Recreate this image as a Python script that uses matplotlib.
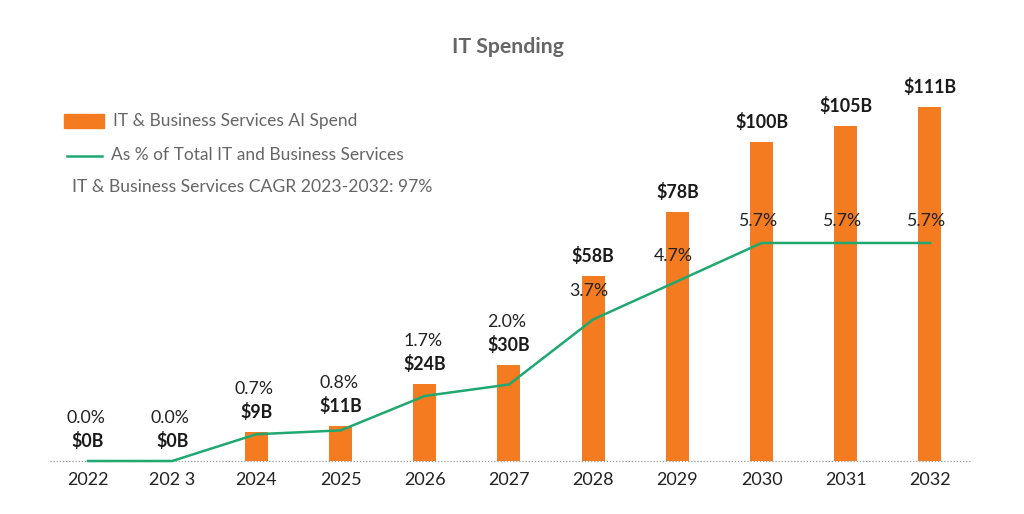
import matplotlib
matplotlib.use("Agg")
import matplotlib.pyplot as plt
from matplotlib.patches import Rectangle
from matplotlib.lines import Line2D

plt.rcParams['font.family'] = ['Lato', 'DejaVu Sans']

years = ["2022", "202 3", "2024", "2025", "2026", "2027", "2028", "2029", "2030", "2031", "2032"]
spend = [0, 0, 9, 11, 24, 30, 58, 78, 100, 105, 111]
spend_labels = ["$0B", "$0B", "$9B", "$11B", "$24B", "$30B", "$58B", "$78B", "$100B", "$105B", "$111B"]
pct = [0.0, 0.0, 0.7, 0.8, 1.7, 2.0, 3.7, 4.7, 5.7, 5.7, 5.7]
pct_labels = ["0.0%", "0.0%", "0.7%", "0.8%", "1.7%", "2.0%", "3.7%", "4.7%", "5.7%", "5.7%", "5.7%"]

ORANGE = "#F47B20"
GREEN = "#1FA872"
GRAY = "#666666"
DARK = "#1a1a1a"

W, H = 1024, 514
fig = plt.figure(figsize=(W / 100, H / 100), dpi=100)
fig.patch.set_facecolor("white")

def fx(px):
    return px / W

def fy(py):
    return 1 - py / H

ax = fig.add_axes([fx(50), fy(461), fx(972) - fx(50), fy(80) - fy(461)])
x = list(range(len(years)))
ax.bar(x, spend, width=0.273, color=ORANGE, zorder=2)
ax.set_xlim(-0.451, 10.499)
ax.set_ylim(0, 381 / 3.19)
ax.axhline(0, color="#999999", lw=0.9, ls=(0, (1, 1.5)), zorder=1, clip_on=False)

ax2 = ax.twinx()
ax2.plot(x, pct, color=GREEN, lw=1.8, zorder=3, clip_on=False)
ax2.set_ylim(0, 381 / 38.25)

for a in (ax, ax2):
    for s in a.spines.values():
        s.set_visible(False)
    a.set_yticks([])
ax.set_xticks(x)
ax.set_xticklabels(years, fontsize=13, color="#222222")
ax.tick_params(axis="x", length=0, pad=8)

for i in range(len(years)):
    ax.annotate(spend_labels[i], (x[i], spend[i]), xytext=(0, 20), textcoords="offset pixels",
                ha="center", va="center", fontsize=12.8, fontweight="bold", color=DARK, zorder=5)
    if i <= 5:
        ax.annotate(pct_labels[i], (x[i], spend[i]), xytext=(-2, 43), textcoords="offset pixels",
                    ha="center", va="center", fontsize=12.8, color="#222222", zorder=5)
    else:
        off = 28 if i == 6 else (25 if i == 7 else 22)
        ax2.annotate(pct_labels[i], (x[i], pct[i]), xytext=(-4, off), textcoords="offset pixels",
                     ha="center", va="center", fontsize=12.8, color="#222222", zorder=5)

fig.text(fx(508), fy(47), "IT Spending", ha="center", va="center", fontsize=15.3,
         fontweight="bold", color=GRAY)

fig.patches.append(Rectangle((fx(64), fy(128)), fx(104) - fx(64), fy(114) - fy(128),
                             transform=fig.transFigure, color=ORANGE, figure=fig))
fig.text(fx(113), fy(121), "IT & Business Services AI Spend", ha="left", va="center",
         fontsize=12.5, color=GRAY)
fig.lines.append(Line2D([fx(67), fx(102)], [fy(156), fy(156)], transform=fig.transFigure,
                        color=GREEN, lw=1.8, figure=fig))
fig.text(fx(111), fy(155), "As % of Total IT and Business Services", ha="left", va="center",
         fontsize=12.5, color=GRAY)
fig.text(fx(72), fy(187), "IT & Business Services CAGR 2023-2032: 97%", ha="left", va="center",
         fontsize=12.6, color=GRAY)

fig.savefig("out.png", dpi=100, facecolor="white")
